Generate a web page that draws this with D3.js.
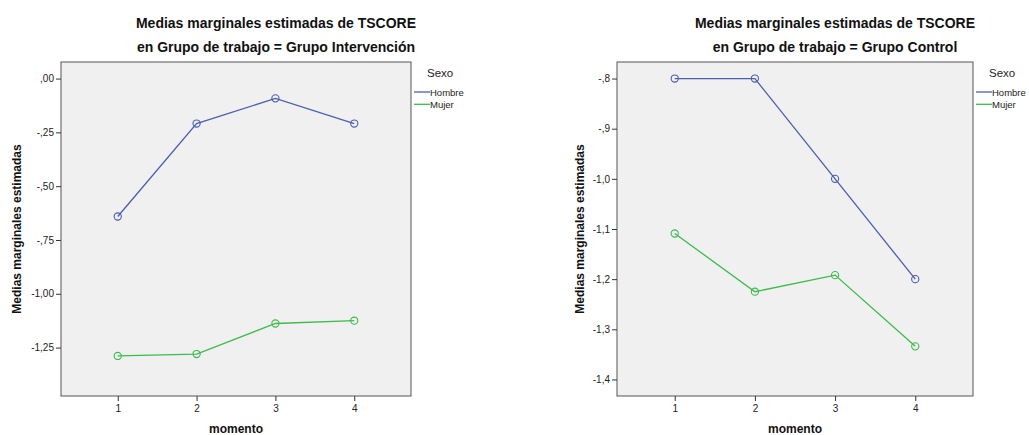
<!DOCTYPE html>
<html>
<head>
<meta charset="utf-8">
<script src="https://cdn.jsdelivr.net/npm/d3@7"></script>
<style>
  html, body { margin: 0; padding: 0; background: #ffffff; }
  svg { display: block; font-family: "Liberation Sans", Arial, sans-serif; }
</style>
</head>
<body>
<svg id="chart" width="1029" height="435"></svg>
<script>
// Estimated marginal means of TSCORE by time point and sex
const momentos = [1, 2, 3, 4];
const sexos = ["Hombre", "Mujer"];

// Grupo Intervención
const intervHombre = [-0.641, -0.209, -0.092, -0.209];
const intervMujer = [-1.289, -1.280, -1.138, -1.125];
const intervTicks = [0, -0.25, -0.5, -0.75, -1.0, -1.25];
const intervTickLabels = [",00", "-,25", "-,50", "-,75", "-1,00", "-1,25"];

// Grupo Control
const controlHombre = [-0.800, -0.800, -1.000, -1.200];
const controlMujer = [-1.109, -1.225, -1.192, -1.334];
const controlTicks = [-0.8, -0.9, -1.0, -1.1, -1.2, -1.3, -1.4];
const controlTickLabels = ["-,8", "-,9", "-1,0", "-1,1", "-1,2", "-1,3", "-1,4"];

const colors = { Hombre: "#4a5fb0", Mujer: "#3dbb4c" };

const svg = d3.select("#chart");

function panel(opts) {
  const g = svg.append("g");
  const { left, right, top, bottom } = opts;

  const x = d3.scaleLinear().domain([0.28, 4.72]).range([left, right]);
  const y = d3.scaleLinear().domain(opts.yDomain).range([bottom, top]);

  // titles
  const titleX = (left + right) / 2 + 40;
  g.append("text").attr("x", titleX).attr("y", 28)
    .attr("text-anchor", "middle").attr("font-size", 14).attr("font-weight", "bold")
    .attr("fill", "#111").text("Medias marginales estimadas de TSCORE");
  g.append("text").attr("x", titleX).attr("y", 52)
    .attr("text-anchor", "middle").attr("font-size", 14).attr("font-weight", "bold")
    .attr("fill", "#111").text(opts.subtitle);

  // plot background
  g.append("rect").attr("x", left).attr("y", top)
    .attr("width", right - left).attr("height", bottom - top)
    .attr("fill", "#f0f0f0").attr("stroke", "#555").attr("stroke-width", 1);

  // y axis
  const yAxis = d3.axisLeft(y).tickValues(opts.ticks).tickSize(5).tickPadding(2)
    .tickFormat((d, i) => opts.tickLabels[i]);
  const ya = g.append("g").attr("transform", `translate(${left},0)`).call(yAxis);
  ya.select(".domain").remove();
  ya.selectAll(".tick line").attr("stroke", "#333");
  ya.selectAll(".tick text").attr("font-size", 10).attr("fill", "#222")
    .attr("font-family", "Liberation Sans, Arial, sans-serif");

  // x axis
  const xAxis = d3.axisBottom(x).tickValues(momentos).tickSize(5).tickPadding(4)
    .tickFormat(d3.format("d"));
  const xa = g.append("g").attr("transform", `translate(0,${bottom})`).call(xAxis);
  xa.select(".domain").remove();
  xa.selectAll(".tick line").attr("stroke", "#333");
  xa.selectAll(".tick text").attr("font-size", 10).attr("fill", "#222")
    .attr("font-family", "Liberation Sans, Arial, sans-serif");

  // axis titles
  g.append("text").attr("x", (left + right) / 2).attr("y", 433)
    .attr("text-anchor", "middle").attr("font-size", 12).attr("font-weight", "bold")
    .attr("fill", "#111").text("momento");
  g.append("text")
    .attr("transform", `translate(${opts.yTitleX},${(top + bottom) / 2}) rotate(-90)`)
    .attr("text-anchor", "middle").attr("font-size", 12).attr("font-weight", "bold")
    .attr("fill", "#111").text("Medias marginales estimadas");

  // series
  const series = [
    { name: "Hombre", values: opts.hombre },
    { name: "Mujer", values: opts.mujer }
  ];
  const line = d3.line().x((d, i) => x(momentos[i])).y(d => y(d));
  series.forEach(s => {
    g.append("path").datum(s.values).attr("d", line)
      .attr("fill", "none").attr("stroke", colors[s.name]).attr("stroke-width", 1.3);
    g.selectAll(null).data(s.values).enter().append("circle")
      .attr("cx", (d, i) => x(momentos[i])).attr("cy", d => y(d)).attr("r", 3.6)
      .attr("fill", "none").attr("stroke", colors[s.name]).attr("stroke-width", 1.1);
  });

  // legend
  const lx = right + 3;
  g.append("text").attr("x", lx + 13).attr("y", 77)
    .attr("font-size", 11.5).attr("fill", "#222").text("Sexo");
  sexos.forEach((s, i) => {
    const ly = 92 + i * 12.3;
    g.append("line").attr("x1", lx).attr("x2", lx + 16).attr("y1", ly).attr("y2", ly)
      .attr("stroke", colors[s]).attr("stroke-width", 1.3);
    g.append("text").attr("x", lx + 16).attr("y", ly + 3.5)
      .attr("font-size", 9.5).attr("fill", "#222").text(s);
  });
}

panel({
  left: 61, right: 411, top: 62, bottom: 396,
  yDomain: [-1.475, 0.077],
  ticks: intervTicks, tickLabels: intervTickLabels,
  hombre: intervHombre, mujer: intervMujer,
  subtitle: "en Grupo de trabajo = Grupo Intervención",
  yTitleX: 21
});

panel({
  left: 617, right: 973, top: 62, bottom: 396,
  yDomain: [-1.433, -0.767],
  ticks: controlTicks, tickLabels: controlTickLabels,
  hombre: controlHombre, mujer: controlMujer,
  subtitle: "en Grupo de trabajo = Grupo Control",
  yTitleX: 584
});
</script>
</body>
</html>
